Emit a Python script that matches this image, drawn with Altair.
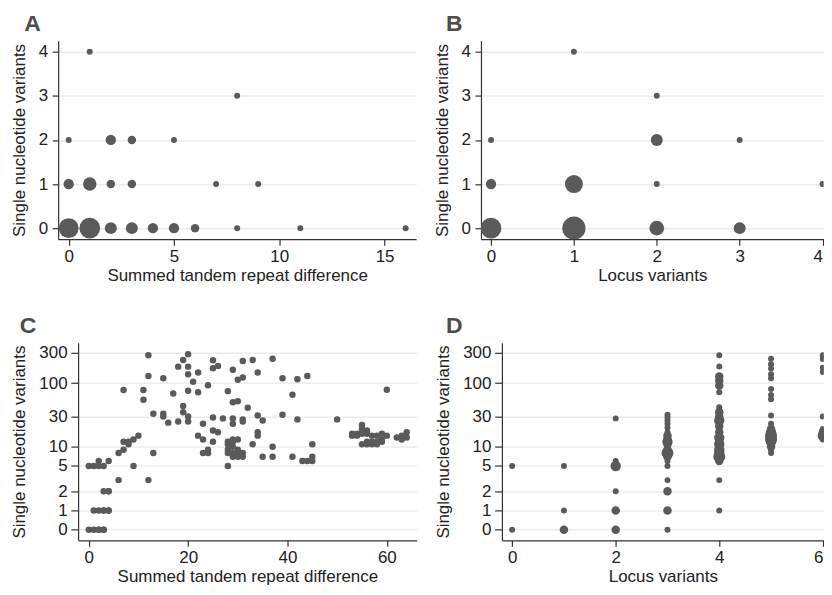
import altair as alt
import pandas as pd

# ---------------- data ----------------
# Panel A: summed tandem repeat difference vs SNVs (bubble = number of pairs)
A_x = [1, 8, 0, 2, 3, 5, 0, 1, 2, 3, 7, 9, 0, 1, 2, 3, 4, 5, 6, 8, 11, 16]
A_y = [4, 3, 2, 2, 2, 2, 1, 1, 1, 1, 1, 1, 0, 0, 0, 0, 0, 0, 0, 0, 0, 0]
A_n = [1, 1, 1, 3, 2, 1, 3, 5, 2, 2, 1, 1, 11, 12, 4, 4, 3, 3, 2, 1, 1, 1]

# Panel B: locus variants vs SNVs
B_x = [1, 2, 0, 2, 3, 0, 1, 2, 4, 0, 1, 2, 3]
B_y = [4, 3, 2, 2, 2, 1, 1, 1, 1, 0, 0, 0, 0]
B_n = [1, 1, 1, 4, 1, 3, 9, 1, 1, 12, 15, 6, 4]

# Panel C: summed tandem repeat difference vs SNVs (one point per pair)
C_x = [0, 1, 2, 2, 3, 3,
       1, 2, 3, 3, 4, 4,
       3, 4, 4,
       6, 12,
       0, 1, 2, 3, 9, 28,
       2, 4,
       6, 7, 7, 8, 8, 9, 10,
       13, 7, 11, 11, 12, 12, 15, 13, 15, 15, 16, 17,
       18, 18, 19, 19, 19, 20, 20, 20, 20, 20, 20, 21, 22, 22, 22, 23, 23, 24,
       23, 24, 24, 25, 25, 26, 25, 27, 25, 25, 26,
       28, 29, 29, 30, 30, 31, 31, 32, 33, 34, 37, 39, 42, 44, 41,
       29, 29, 31, 31, 34, 35, 39, 42, 50,
       28, 28, 28, 28, 29, 29, 29, 29, 30, 30, 30, 30, 31, 31, 29,
       33, 34, 34, 37, 35, 37, 41, 43, 44, 45, 45, 45,
       60,
       53, 53, 54, 54, 55, 55, 55, 55, 56, 56, 57,
       55, 56, 56, 57, 57, 58, 58, 59, 59,
       58, 59, 60,
       62, 63, 64, 64, 63]
C_y = [0, 0, 0, 0, 0, 0,
       1, 1, 1, 1, 1, 1,
       2, 2, 2,
       3, 3,
       5, 5, 5, 5, 5, 5,
       6, 6,
       8, 9, 12, 12, 11, 13, 15,
       8, 78, 78, 55, 274, 130, 120, 33, 33, 30, 24, 69,
       25, 182, 44, 35, 232, 30, 25, 284, 182, 138, 76, 105, 147, 72, 15, 13, 23, 93,
       8, 8, 9, 12, 18, 17, 29, 28, 230, 172, 187,
       75, 162, 50, 52, 113, 123, 224, 41, 232, 147, 243, 120, 115, 130, 66,
       28, 23, 27, 25, 31, 26, 32, 27, 27,
       12, 11, 9, 8, 13, 12, 8, 7, 13, 9, 8, 7, 8, 7, 10,
       11, 17, 15, 10, 7, 7, 7, 6, 6, 6, 7, 11,
       79,
       16, 15, 16, 15, 17, 19, 22, 16, 18, 16, 15,
       11, 11, 12, 11, 12, 11, 12, 12, 13,
       15, 16, 15,
       14, 13, 14, 17, 15]

# Panel D: locus variants vs SNVs (bubble = number of pairs)
D_x = [0, 0,
       1, 1, 1,
       2, 2, 2, 2, 2, 2,
       3, 3, 3, 3, 3, 3, 3, 3, 3, 3, 3, 3, 3, 3, 3, 3, 3, 3, 3,
       4, 4, 4, 4, 4, 4, 4, 4, 4, 4, 4, 4, 4, 4, 4, 4, 4, 4, 4, 4, 4, 4,
       5, 5, 5, 5, 5, 5, 5, 5, 5, 5, 5, 5, 5, 5, 5, 5, 5, 5,
       6, 6, 6, 6, 6, 6, 6, 6, 6, 6]
D_y = [5, 0,
       5, 1, 0,
       28, 6, 5, 2, 1, 0,
       32, 29, 26, 23, 20, 17, 15, 13, 12, 11, 9, 8, 7, 6, 5, 3, 2, 1, 0,
       275, 183, 127, 109, 91, 72, 42, 35, 30, 26, 21, 17, 14, 12, 11, 10, 9, 8, 7, 6, 3, 1,
       243, 199, 170, 138, 120, 81, 65, 56, 31, 23, 19, 17, 15, 13, 12, 10, 9, 8,
       275, 240, 175, 150, 30, 19, 17, 15, 14, 13]
D_n = [1, 1,
       1, 1, 2,
       1, 1, 3, 1, 2, 2,
       1, 1, 1, 1, 1, 1, 2, 2, 3, 2, 2, 4, 2, 1, 1, 1, 2, 2, 1,
       1, 1, 2, 2, 2, 1, 1, 2, 2, 3, 2, 2, 3, 2, 3, 2, 3, 3, 4, 2, 1, 1,
       1, 1, 1, 1, 1, 1, 1, 1, 1, 1, 2, 3, 4, 4, 3, 2, 1, 1,
       1, 1, 1, 1, 1, 1, 2, 3, 2, 1]

# ---------------- style ----------------
FONT = "Liberation Sans"
PT = "#5a5a5a"
YTITLE = "Single nucleotide variants"
LOG_TICKS = [0.5, 1, 2, 5, 10, 30, 100, 300]
LOG_DOMAIN = [0.34, 430]


def panel_title(letter, dx):
    return alt.TitleParams(text=letter, anchor="start", frame="group", fontSize=23,
                           fontWeight="bold", color="#4d4d4d", font=FONT, dx=dx, offset=5)


def y_lin():
    return alt.Y("y:Q", scale=alt.Scale(domain=[-0.25, 4.25], nice=False, zero=False),
                 axis=alt.Axis(values=[0, 1, 2, 3, 4], title=YTITLE, grid=True,
                               tickSize=6, labelPadding=4.5, titlePadding=9.5))


def y_log():
    return alt.Y("yv:Q", scale=alt.Scale(type="log", domain=LOG_DOMAIN, nice=False),
                 axis=alt.Axis(values=LOG_TICKS, title=YTITLE, grid=True,
                               tickSize=7.3, labelPadding=3.7, titlePadding=10.3,
                               labelExpr="datum.value < 1 ? '0' : format(datum.value, 'd')"))


def x_axis(vals, title):
    return alt.Axis(values=vals, title=title, grid=False, tickSize=6,
                    labelPadding=3, titlePadding=3, labelFlush=3, labelFlushOffset=0)


def spacer():
    return alt.Chart(pd.DataFrame({"v": [0]})).mark_rect(opacity=0).encode(
        x=alt.value(0), x2=alt.value(1), y=alt.value(0), y2=alt.value(1)
    ).properties(width=1, height=1)


size_scale = alt.Scale(domain=[0, 16], range=[0, 576])

dfA = pd.DataFrame({"x": A_x, "y": A_y, "n": A_n})
dfB = pd.DataFrame({"x": B_x, "y": B_y, "n": B_n})
dfC = pd.DataFrame({"x": C_x, "y": C_y})
dfD = pd.DataFrame({"x": D_x, "y": D_y, "n": D_n})

chartA = alt.Chart(dfA).mark_circle(color=PT, opacity=1).encode(
    x=alt.X("x:Q", scale=alt.Scale(domain=[-0.5, 16.5], nice=False, zero=False),
            axis=x_axis([0, 5, 10, 15], "Summed tandem repeat difference")),
    y=y_lin(),
    size=alt.Size("n:Q", scale=size_scale, legend=None),
).properties(width=359, height=199, title=panel_title("A", -34))

chartB = alt.Chart(dfB).mark_circle(color=PT, opacity=1, clip=True).encode(
    x=alt.X("x:Q", scale=alt.Scale(domain=[-0.1215, 4.013], nice=False, zero=False),
            axis=x_axis([0, 1, 2, 3, 4], "Locus variants")),
    y=y_lin(),
    size=alt.Size("n:Q", scale=size_scale, legend=None),
).properties(width=343.6, height=199, title=panel_title("B", -35))

chartC = alt.Chart(dfC).transform_calculate(yv="max(datum.y, 0.5)").mark_circle(
    color=PT, opacity=1, size=42).encode(
    x=alt.X("x:Q", scale=alt.Scale(domain=[-2.15, 66], nice=False, zero=False),
            axis=x_axis([0, 20, 40, 60], "Summed tandem repeat difference")),
    y=y_log(),
).properties(width=339.5, height=198, title=panel_title("C", -58.5))

chartD = alt.Chart(dfD).transform_calculate(yv="max(datum.y, 0.5)").mark_circle(
    color=PT, opacity=1, clip=True).encode(
    x=alt.X("x:Q", scale=alt.Scale(domain=[-0.198, 6.019], nice=False, zero=False),
            axis=x_axis([0, 2, 4, 6], "Locus variants")),
    y=y_log(),
    size=alt.Size("n:Q", scale=size_scale, legend=None),
).properties(width=322.8, height=198, title=panel_title("D", -56))

row1 = alt.hconcat(alt.hconcat(spacer(), chartA, spacing=0), chartB, spacing=17)
row2 = alt.hconcat(alt.hconcat(spacer(), chartC, spacing=0), chartD, spacing=17)

chart = alt.vconcat(row1, row2, spacing=32).properties(
    padding={"left": 1.3, "top": 4, "right": 0, "bottom": 0}
).configure_view(stroke=None).configure_axis(
    labelFont=FONT, titleFont=FONT, labelFontSize=17, titleFontSize=17,
    titleFontWeight="normal", labelColor="#222222", titleColor="#222222",
    domainColor="#333333", tickColor="#333333", domainWidth=1.2, tickWidth=1.2,
    gridColor="#ececec", gridWidth=1.5,
)

chart.save("out.html", embed_options={"renderer": "svg", "actions": False})
